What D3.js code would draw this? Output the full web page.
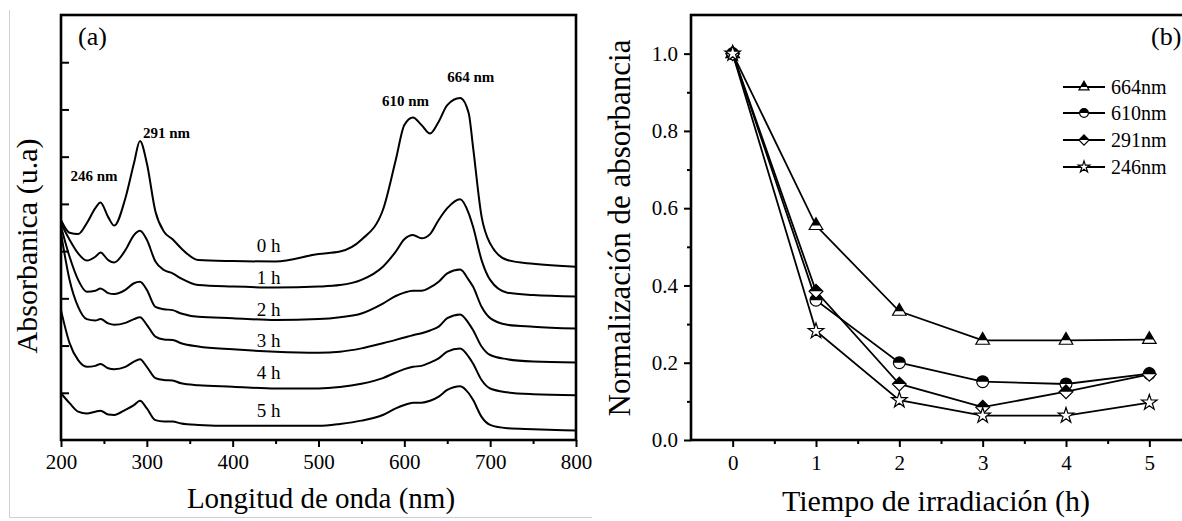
<!DOCTYPE html>
<html>
<head>
<meta charset="utf-8">
<script src="https://cdn.jsdelivr.net/npm/d3@7"></script>
<style>
    html, body { margin: 0; padding: 0; background: #fff; }
    svg { display: block; }
    text { font-family: "Liberation Serif", "Times New Roman", serif; fill: #000; }
</style>
</head>
<body>
<svg id="chart" width="1182" height="521"></svg>
<script>
// ---------- (a) espectros UV-vis ----------
const wavelength = [200, 210, 220, 230, 240, 246, 255, 262, 275, 285, 292, 300, 310, 320, 330, 340, 360, 400, 450, 500,
    525, 550, 575, 590, 600, 610, 620, 630, 640, 650, 665, 675, 680, 690, 700, 720, 750, 800]
const abs0h = [4.66, 4.39, 4.36, 4.59, 4.91, 5.03, 4.72, 4.54, 5.12, 5.86, 6.33, 5.86, 4.84, 4.41, 4.25, 4.06, 3.81, 3.79, 3.78, 3.94,
    3.99, 4.24, 4.87, 5.93, 6.67, 6.83, 6.67, 6.49, 6.74, 7.09, 7.24, 6.92, 6.21, 4.73, 4.16, 3.81, 3.73, 3.67]
const abs1h = [4.59, 4.24, 3.95, 3.80, 3.88, 3.97, 3.81, 3.76, 4.02, 4.34, 4.43, 4.24, 3.78, 3.60, 3.53, 3.42, 3.28, 3.25, 3.23, 3.25,
    3.28, 3.39, 3.67, 3.99, 4.25, 4.34, 4.27, 4.36, 4.66, 4.91, 5.10, 4.80, 4.52, 3.81, 3.39, 3.12, 3.07, 3.04]
const abs2h = [4.52, 3.88, 3.39, 3.14, 3.16, 3.21, 3.11, 3.09, 3.18, 3.32, 3.35, 3.18, 2.82, 2.77, 2.75, 2.68, 2.61, 2.58, 2.54, 2.56,
    2.60, 2.68, 2.89, 3.05, 3.12, 3.16, 3.16, 3.23, 3.35, 3.53, 3.61, 3.39, 3.25, 2.82, 2.58, 2.44, 2.40, 2.36]
const abs3h = [4.38, 3.39, 2.82, 2.56, 2.53, 2.56, 2.47, 2.44, 2.48, 2.56, 2.60, 2.44, 2.19, 2.13, 2.12, 2.05, 1.98, 1.92, 1.87, 1.85,
    1.87, 1.94, 2.05, 2.12, 2.17, 2.22, 2.26, 2.32, 2.40, 2.58, 2.66, 2.47, 2.33, 1.98, 1.80, 1.71, 1.66, 1.64]
const abs4h = [2.75, 2.05, 1.69, 1.55, 1.57, 1.61, 1.52, 1.50, 1.55, 1.66, 1.71, 1.55, 1.31, 1.27, 1.26, 1.20, 1.16, 1.13, 1.09, 1.09,
    1.12, 1.19, 1.31, 1.43, 1.50, 1.55, 1.57, 1.64, 1.73, 1.87, 1.94, 1.76, 1.62, 1.27, 1.09, 1.01, 0.97, 0.95]
const abs5h = [0.99, 0.78, 0.60, 0.56, 0.60, 0.62, 0.54, 0.53, 0.64, 0.74, 0.83, 0.67, 0.42, 0.39, 0.39, 0.35, 0.32, 0.30, 0.30, 0.30,
    0.34, 0.41, 0.53, 0.67, 0.74, 0.79, 0.79, 0.83, 0.92, 1.06, 1.14, 0.99, 0.85, 0.49, 0.32, 0.25, 0.23, 0.20]
const hourLabels = ["0 h", "1 h", "2 h", "3 h", "4 h", "5 h"]
const peakNm = [246, 292, 610, 665]
const peakLabels = ["246 nm", "291 nm", "610 nm", "664 nm"]
const xTicksA = [200, 300, 400, 500, 600, 700, 800]

// ---------- (b) normalizacion ----------
const timeH = [0, 1, 2, 3, 4, 5]
const norm664 = [1.0, 0.555, 0.333, 0.258, 0.258, 0.26]
const norm610 = [1.0, 0.362, 0.2, 0.151, 0.145, 0.172]
const norm291 = [1.0, 0.385, 0.145, 0.085, 0.125, 0.17]
const norm246 = [1.0, 0.282, 0.103, 0.063, 0.063, 0.097]
const seriesNames = ["664nm", "610nm", "291nm", "246nm"]
const yTicksB = [0, 0.2, 0.4, 0.6, 0.8, 1.0]

const svg = d3.select("#chart")
const serif = '"Liberation Serif", "Times New Roman", serif'

// ================= panel (a) =================
const boxA = { left: 61, right: 576, top: 15, bottom: 440 }
const xA = d3.scaleLinear().domain([200, 800]).range([boxA.left, boxA.right])
const yA = d3.scaleLinear().domain([0, 9]).range([boxA.bottom, boxA.top])

// marco gris de la imagen original
svg.append("path")
    .attr("d", "M9.5,10 V517.5 H592")
    .attr("fill", "none").attr("stroke", "#d0d0d0").attr("stroke-width", 1)

const spectra = [abs0h, abs1h, abs2h, abs3h, abs4h, abs5h]
const lineA = d3.line()
    .x((d, i) => xA(wavelength[i]))
    .y(d => yA(d))
    .curve(d3.curveMonotoneX)

const gA = svg.append("g")
gA.selectAll(".spec")
    .data(spectra)
    .enter()
    .append("path")
    .attr("class", "spec")
    .attr("d", d => lineA(d))
    .attr("fill", "none")
    .attr("stroke", "#000")
    .attr("stroke-width", 2)

// ejes
let axA = gA.append("g")
    .attr("transform", "translate(0," + boxA.bottom + ")")
    .call(d3.axisBottom(xA).tickValues(xTicksA).tickSize(7).tickSizeOuter(0).tickPadding(7))
axA.select(".domain").remove()
axA.selectAll("line").attr("stroke-width", 2)
axA.selectAll("text").style("font-family", serif).style("font-size", "21px")

let axAminor = gA.append("g")
    .attr("transform", "translate(0," + boxA.bottom + ")")
    .call(d3.axisBottom(xA).tickValues(d3.range(250, 800, 100)).tickSize(4).tickFormat(""))
axAminor.select(".domain").remove()
axAminor.selectAll("line").attr("stroke-width", 2)

let ayA = gA.append("g")
    .attr("transform", "translate(" + boxA.left + ",0)")
    .call(d3.axisRight(yA).tickValues(d3.range(1, 9)).tickSize(8).tickFormat(""))
ayA.select(".domain").remove()
ayA.selectAll("line").attr("stroke-width", 2)

gA.append("rect")
    .attr("x", boxA.left).attr("y", boxA.top)
    .attr("width", boxA.right - boxA.left).attr("height", boxA.bottom - boxA.top)
    .attr("fill", "none").attr("stroke", "#000").attr("stroke-width", 2.6)

// etiquetas de horas
const hourDy = [10, 3, 4, 5, 10, 9]
const i450 = wavelength.indexOf(450)
gA.selectAll(".hour")
    .data(hourLabels)
    .enter()
    .append("text")
    .attr("class", "hour")
    .attr("x", xA(428))
    .attr("y", (d, i) => yA(spectra[i][i450]) - hourDy[i])
    .style("font-size", "19px")
    .text(d => d)

// etiquetas de picos
const peakDx = [-30, 3, -31, -13]
const peakDy = [21, 3, 11, 16]
gA.selectAll(".peak")
    .data(peakLabels)
    .enter()
    .append("text")
    .attr("class", "peak")
    .attr("x", (d, i) => xA(peakNm[i]) + peakDx[i])
    .attr("y", (d, i) => yA(abs0h[wavelength.indexOf(peakNm[i])]) - peakDy[i])
    .style("font-size", "15px")
    .style("font-weight", "bold")
    .text(d => d)

gA.append("text").attr("x", 78).attr("y", 45).style("font-size", "26px").text("(a)")

gA.append("text")
    .attr("x", 321).attr("y", 508)
    .attr("text-anchor", "middle")
    .style("font-size", "29px")
    .text("Longitud de onda (nm)")

gA.append("text")
    .attr("transform", "translate(37,246) rotate(-90)")
    .attr("text-anchor", "middle")
    .style("font-size", "30px")
    .text("Absorbanica (u.a)")

// ================= panel (b) =================
const boxB = { left: 691, right: 1191, top: 15, bottom: 440 }
const xB = d3.scaleLinear().domain([-0.5, 5.5]).range([boxB.left, boxB.right])
const yB = d3.scaleLinear().domain([0, 1.1]).range([boxB.bottom, boxB.top])

const gB = svg.append("g")

let axB = gB.append("g")
    .attr("transform", "translate(0," + boxB.bottom + ")")
    .call(d3.axisBottom(xB).tickValues(timeH).tickSize(7).tickSizeOuter(0).tickPadding(8).tickFormat(d3.format("d")))
axB.select(".domain").remove()
axB.selectAll("line").attr("stroke-width", 2)
axB.selectAll("text").style("font-family", serif).style("font-size", "21px")

let axBminor = gB.append("g")
    .attr("transform", "translate(0," + boxB.bottom + ")")
    .call(d3.axisBottom(xB).tickValues(d3.range(0.5, 5, 1)).tickSize(4).tickFormat(""))
axBminor.select(".domain").remove()
axBminor.selectAll("line").attr("stroke-width", 2)

let ayB = gB.append("g")
    .attr("transform", "translate(" + boxB.left + ",0)")
    .call(d3.axisLeft(yB).tickValues(yTicksB).tickSize(7).tickSizeOuter(0).tickPadding(6).tickFormat(d3.format(".1f")))
ayB.select(".domain").remove()
ayB.selectAll("line").attr("stroke-width", 2)
ayB.selectAll("text").style("font-family", serif).style("font-size", "21px")

let ayBminor = gB.append("g")
    .attr("transform", "translate(" + boxB.left + ",0)")
    .call(d3.axisLeft(yB).tickValues(d3.range(0.1, 1.0, 0.2)).tickSize(4).tickFormat(""))
ayBminor.select(".domain").remove()
ayBminor.selectAll("line").attr("stroke-width", 2)

gB.append("rect")
    .attr("x", boxB.left).attr("y", boxB.top)
    .attr("width", boxB.right - boxB.left).attr("height", boxB.bottom - boxB.top)
    .attr("fill", "none").attr("stroke", "#000").attr("stroke-width", 2.6)

// simbolos semi-rellenos
const symbolDiamondSq = {
    draw(ctx, size) {
        const r = Math.sqrt(size / 2)
        ctx.moveTo(0, -r); ctx.lineTo(r, 0); ctx.lineTo(0, r); ctx.lineTo(-r, 0); ctx.closePath()
    }
}
const seriesVals = [norm664, norm610, norm291, norm246]
const seriesSym = [d3.symbolTriangle, d3.symbolCircle, symbolDiamondSq, d3.symbolStar]
const seriesSize = [80, 110, 95, 75]

svg.append("defs").append("clipPath")
    .attr("id", "topHalf")
    .append("rect").attr("x", -20).attr("y", -20).attr("width", 40).attr("height", 20)

function drawMarker(g, k, scale) {
    let p = d3.symbol().type(seriesSym[k]).size(seriesSize[k] * scale)()
    g.append("path").attr("d", p).attr("fill", "#fff").attr("stroke", "#000").attr("stroke-width", 1.2)
    if (k < 3) {
        g.append("path").attr("d", p).attr("fill", "#000").attr("clip-path", "url(#topHalf)")
    }
}

const lineB = d3.line()
    .x((d, i) => xB(timeH[i]))
    .y(d => yB(d))

gB.selectAll(".serie")
    .data(seriesVals)
    .enter()
    .append("path")
    .attr("class", "serie")
    .attr("d", d => lineB(d))
    .attr("fill", "none")
    .attr("stroke", "#000")
    .attr("stroke-width", 1.8)

seriesVals.forEach(function (vals, k) {
    vals.forEach(function (v, i) {
        let m = gB.append("g").attr("transform", "translate(" + xB(timeH[i]) + "," + yB(v) + ")")
        drawMarker(m, k, 1)
    })
})

// leyenda
const legY = [87, 113, 140, 167]
seriesNames.forEach(function (name, k) {
    let row = gB.append("g").attr("transform", "translate(1063," + legY[k] + ")")
    row.append("line").attr("x1", 0).attr("x2", 42).attr("y1", 0).attr("y2", 0)
        .attr("stroke", "#000").attr("stroke-width", 1.8)
    let m = row.append("g").attr("transform", "translate(21,0)")
    drawMarker(m, k, 0.55)
    row.append("text").attr("x", 48).attr("y", 0).attr("dy", "0.35em")
        .style("font-size", "20px").text(name)
})

gB.append("text").attr("x", 1151).attr("y", 45).style("font-size", "26px").text("(b)")

gB.append("text")
    .attr("x", 936).attr("y", 511)
    .attr("text-anchor", "middle")
    .style("font-size", "30px")
    .text("Tiempo de irradiación (h)")

gB.append("text")
    .attr("transform", "translate(630,228) rotate(-90)")
    .attr("text-anchor", "middle")
    .style("font-size", "31px")
    .text("Normalización de absorbancia")
</script>
</body>
</html>
